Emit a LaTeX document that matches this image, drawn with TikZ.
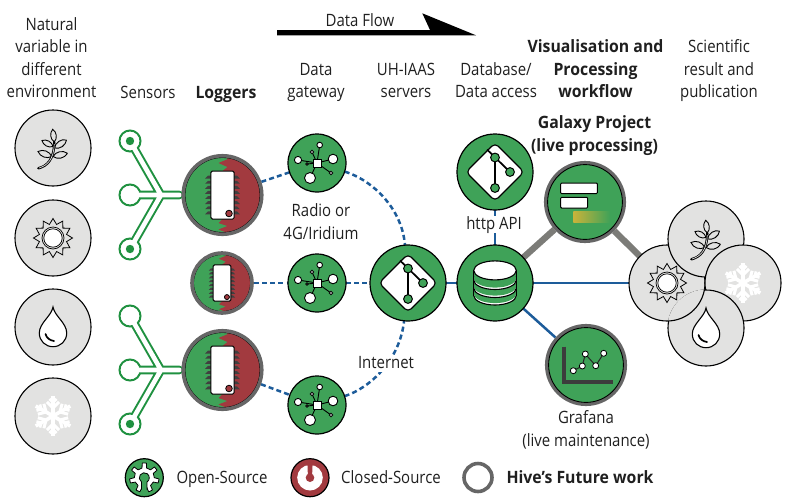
\documentclass[tikz,border=0pt]{standalone}
\usepackage{fontspec}
\setmainfont[FakeStretch=0.88,BoldFeatures={FakeStretch=0.93}]{Open Sans}
\usetikzlibrary{backgrounds}
\definecolor{gGreen}{HTML}{3FA258}
\definecolor{gRed}{HTML}{A23A3F}
\definecolor{sGreen}{HTML}{1F9140}
\definecolor{ringGray}{HTML}{666666}
\definecolor{linkGray}{HTML}{7C7C78}
\definecolor{lBlue}{HTML}{1D5C9A}
\definecolor{iGray}{HTML}{E2E2E1}
\definecolor{gold}{HTML}{C9B33A}
\definecolor{axisGray}{HTML}{3C3C3C}
\newcommand{\leafp}[4]{\draw[line width=.9,fill=iGray] (#1,#2) to[bend left=48] (#3,#4) to[bend left=48] (#1,#2);}
\tikzset{
 lbl/.style={align=center,inner sep=0pt,text=black!88,font=\fontsize{17}{22.5}\selectfont},
 blbl/.style={lbl,font=\fontsize{17}{22.5}\selectfont\bfseries},
 envc/.style={circle,draw=black,line width=1.1,fill=iGray,minimum size=76,inner sep=0,outer sep=0},
 gnode/.style={circle,draw=black,line width=1.2,fill=gGreen,minimum size=#1,inner sep=0,outer sep=0},
 fnode/.style={circle,draw=ringGray,line width=3.6,fill=gGreen,minimum size=#1,inner sep=0},
 lognode/.style={circle,draw=ringGray,line width=3.6,minimum size=#1,inner sep=0},
 sensor/.style={circle,draw=sGreen,line width=2,fill=white,minimum size=21,inner sep=0,outer sep=0},
 sdot/.style={circle,fill=sGreen,minimum size=8.4,inner sep=0},
 tubeo/.style={draw=sGreen,line width=8.6,line join=miter,line cap=round},
 tubei/.style={draw=white,line width=4.6,line join=miter,line cap=round},
 dlink/.style={draw=lBlue,line width=2.5,dash pattern=on 5pt off 3.2pt},
 slink/.style={draw=lBlue,line width=2.5},
 glink/.style={draw=linkGray,line width=6.4},
 leafic/.pic={
  \leafp{1.3}{-6}{-.3}{-18.7}
  \leafp{0}{-1.5}{-11}{-7.5}
  \leafp{13.5}{-8}{1.5}{0}
  \leafp{-1.3}{8.5}{-15}{3.5}
  \leafp{14.5}{5.3}{0}{8.5}
  \draw[line width=2.4,line cap=round] (-14.7,20.3) .. controls (-6,18) and (1,12) .. (1.3,-6);
  \draw[iGray,line width=.7] (-14,20) .. controls (-6,17.6) and (.9,11.6) .. (1.2,-4);
 },
 sunic/.pic={
  \draw[line width=.8,line join=miter,fill=iGray] (0:19.5)
   \foreach \i in {1,...,11}{ -- (\i*30-15:14) -- (\i*30:19.5)} -- (345:14) -- cycle;
  \draw[line width=.7,fill=iGray] (0,0) circle[radius=11];
  \draw[line width=.7,fill=white] (0,0) circle[radius=9.2];
 },
 dropic/.pic={
  \draw[line width=1.1,fill=white] (0,-20) .. controls (1.5,-11) and (13.7,-4) .. (13.7,6)
    .. controls (13.7,14) and (7.5,19.7) .. (0,19.7)
    .. controls (-7.5,19.7) and (-13.7,14) .. (-13.7,6)
    .. controls (-13.7,-4) and (-1.5,-11) .. (0,-20) -- cycle;
  \draw[line width=1.7,line cap=round] (-7.5,7) .. controls (-6.5,11) and (-3,13.5) .. (1,14);
 },
 flakeic/.pic={
  \foreach \a in {30,90,...,330}{
   \begin{scope}[rotate=\a]
   \draw[white,line width=3.6] (0,0) -- (20,0);
   \draw[white,line width=3] (8,0) -- ++(45:8.5);
   \draw[white,line width=3] (8,0) -- ++(-45:8.5);
   \draw[white,line width=2.6] (13.5,0) -- ++(45:5);
   \draw[white,line width=2.6] (13.5,0) -- ++(-45:5);
   \end{scope}}
 },
 chipic/.pic={
  \begin{scope}
  \clip (0,0) circle[radius=37.6];
  \fill[gGreen] (-42,-42) rectangle (42,42);
  \fill[gRed] (-3,-42) -- (5.5,-36) -- (-4,-32) -- (5,-28) -- (0,-24) -- (0,24) -- (-4,28) -- (5,31) -- (-4,34.5) -- (5,38) -- (-1,42) -- (42,42) -- (42,-42) -- cycle;
  \end{scope}
  \draw[line width=1] (0,0) circle[radius=37.6];
  \foreach \k in {-3.5,-2.5,...,3.5}{
   \fill[black!75] (-11.5,{\k*5.1-1.5}) -- (-14.5,{\k*5.1-1.5}) -- (-17.4,{\k*5.1+1.4}) -- (-11.5,{\k*5.1+1.4}) -- cycle;
   \fill[black!75] (11.5,{\k*5.1-1.5}) -- (14.5,{\k*5.1-1.5}) -- (17.4,{\k*5.1+1.4}) -- (11.5,{\k*5.1+1.4}) -- cycle;
  }
  \draw[line width=1,fill=white,rounded corners=1.5pt] (-11.7,-24) rectangle (11.7,24);
  \draw[line width=.8,fill=gRed] (6.5,18.5) circle[radius=3.3];
 },
 gitic/.pic={
  \draw[line width=1.1,fill=white,rounded corners=4.5pt] (14.5,-14.5) -- (29,0) -- (0,29) -- (-29,0) -- (0,-29) -- cycle;
  \draw[line width=1.7] (-8,-22.5) -- (15,0);
  \draw[line width=1.7] (0,-14.5) -- (0,16);
  \foreach \p in {(0,-14.5),(15,0),(0,16)}{\draw[line width=1,fill=gGreen] \p circle[radius=4.4];}
 },
 dbic/.pic={
  \draw[line width=1.1,fill=white] (0,12.5) ellipse[x radius=21.3,y radius=9.5];
  \fill[gGreen] (0,10.6) ellipse[x radius=21.3,y radius=9.5];
  \draw[line width=1.1,fill=white] (0,5) ellipse[x radius=21.3,y radius=9.5];
  \fill[gGreen] (0,3.1) ellipse[x radius=21.3,y radius=9.5];
  \draw[line width=1.1,fill=white] (0,-3) ellipse[x radius=21.3,y radius=9.5];
  \fill[gGreen] (0,-4.9) ellipse[x radius=21.3,y radius=9.5];
  \draw[line width=1.1,fill=white] (0,-12.6) ellipse[x radius=21.3,y radius=9.5];
  \draw[line width=1.1] (-21.3,-12.6) -- (-21.3,12.5) (21.3,-12.6) -- (21.3,12.5);
 },
 netic/.pic={
  \foreach \p/\r in {(-19,-3)/3.6,(16,-4)/4.8,(2.7,-18)/2.8,(-5,-11)/1.8,(-10,1)/1.2,(14,10)/1.8,(-7,15)/5.5}{
   \draw[line width=.9] (0,0) -- \p;
   \draw[line width=.9,fill=white] \p circle[radius=\r];
  }
  \draw[line width=.9,fill=white] (-4,-4) rectangle (4,4);
 },
 galic/.pic={
  \draw[line width=1,fill=white,rounded corners=1pt] (-24.3,-19) rectangle (12.3,-8.3);
  \draw[line width=1,fill=white,rounded corners=1pt] (-24.3,-4.7) rectangle (2.7,6);
  \shade[left color=gold,middle color=gold!75!gGreen,right color=gGreen] (-11.7,9.3) rectangle (25,20);
 },
 grafic/.pic={
  \draw[axisGray,line width=4,line join=miter] (-21.7,-18.3) -- (-21.7,16.7) -- (26.7,16.7);
  \draw[black!85,line width=1] (-12.7,5.7) -- (-3.7,1) -- (-.7,-11) -- (9.7,.7) -- (17.7,-11.7);
  \foreach \p in {(-12.7,5.7),(-3.7,1),(-.7,-11),(9.7,.7),(17.7,-11.7)}{\draw[line width=.8,fill=white] \p circle[radius=3];}
 },
 gearic/.pic={
  \draw[line width=.8,fill=white,line join=round] ({115.7-13}:10)
   \foreach \i in {0,...,6}{ -- ({115.7+\i*51.43-13}:10) -- ({115.7+\i*51.43-8}:14.8) -- ({115.7+\i*51.43+8}:14.8) -- ({115.7+\i*51.43+13}:10)} -- cycle;
  \fill[gGreen] (0,0) circle[radius=5];
  \fill[gGreen] (-2.8,2) rectangle (2.8,14);
  \draw[line width=.8] (-2.8,12) -- (-2.8,4.2) arc[start angle=-236,end angle=56,radius=5] -- (2.8,12);
 },
 lockic/.pic={
  \fill[white] (0,0) circle[radius=12.8];
  \fill[gRed] (0,0) circle[radius=4.3];
  \fill[gRed] (-2.6,-14) -- (2.6,-14) -- (2,0) -- (-2,0) -- cycle;
 },
}
\begin{document}
\begin{tikzpicture}[x=1pt,y=-1pt]
\useasboundingbox (0,0) rectangle (786,501);
% environment column
\node[envc] (e1) at (53,148) {};
\node[envc] (e2) at (53,238) {};
\node[envc] (e3) at (53,327) {};
\node[envc] (e4) at (53,416) {};
\pic at (e1) {leafic};
\pic at (e2) {sunic};
\pic at (e3) {dropic};
\pic at (e4) {flakeic};
% sensors
\node[sensor] (s1) at (130,141) {};
\node[sensor] (s2) at (130,195) {};
\node[sensor] (s3) at (130,249) {};
\node[sensor] (s4) at (130,316) {};
\node[sensor] (s5) at (130,370) {};
\node[sensor] (s6) at (130,424) {};
\coordinate (j1) at (161,195);
\coordinate (j2) at (161,370);
\coordinate (t1) at (179.5,195);
\coordinate (t2) at (179.5,370);
\begin{scope}[on background layer]
 \draw[tubeo] (s1.center) -- (j1) -- (t1) (s3.center) -- (j1) (s2.center) -- (j1);
 \draw[tubeo] (s4.center) -- (j2) -- (t2) (s6.center) -- (j2) (s5.center) -- (j2);
\end{scope}
\draw[tubei] (s1.center) -- (j1) -- (t1) (s3.center) -- (j1) (s2.center) -- (j1);
\draw[tubei] (s4.center) -- (j2) -- (t2) (s6.center) -- (j2) (s5.center) -- (j2);
\fill[white] (s1) circle[radius=9] (s2) circle[radius=9] (s3) circle[radius=9] (s4) circle[radius=9] (s5) circle[radius=9] (s6) circle[radius=9];
\node[sdot] (d1) at (s1) {};
\node[sdot] (d3) at (s3) {};
\node[sdot] (d6) at (s6) {};
% loggers
\pic at (222.5,195) {chipic};
\pic[scale=.76] at (222,283) {chipic};
\pic at (222.5,370) {chipic};
\node[lognode=78.5] (l1) at (222.5,195) {};
\node[lognode=60] (l2) at (222,283) {};
\node[lognode=78.5] (l3) at (222.5,370) {};
% gateways
\node[gnode=58] (g1) at (317,163) {};
\node[gnode=58] (g2) at (317,283) {};
\node[gnode=58] (g3) at (317,405) {};
\pic at (g1) {netic};
\pic at (g2) {netic};
\pic at (g3) {netic};
% servers
\node[gnode=76] (srv) at (408,283) {};
\node[gnode=76] (api) at (495,172) {};
\node[gnode=76] (db) at (495,283) {};
\pic at (srv) {gitic};
\pic at (api) {gitic};
\pic at (db) {dbic};
% galaxy and grafana
\node[fnode=78.5] (gal) at (585,202) {};
\node[fnode=78.5] (gra) at (586,365) {};
\draw[line width=.9] (gal) circle[radius=37.4] (gra) circle[radius=37.4];
\pic at (gal) {galic};
\pic at (gra) {grafic};
% cluster
\node[envc] (cl) at (667,283) {};
\node[envc] (ct) at (706,239) {};
\node[envc] (cr) at (743,283) {};
\node[envc] (cb) at (706,328) {};
\begin{scope}
 \clip (706,328) circle[radius=38.6];
 \draw[line width=1.1,fill=iGray] (667,283) circle[radius=38];
\end{scope}
\pic at (ct) {leafic};
\pic at (cl) {sunic};
\pic at (cr) {flakeic};
\pic at (cb) {dropic};
% connectors
\begin{scope}[on background layer]
 \draw[dlink] (l1) -- (g1);
 \draw[dlink] (l2) -- (g2);
 \draw[dlink] (l3) -- (g3);
 \draw[dlink] (g1) .. controls (372,180) and (402,208) .. (srv);
 \draw[dlink] (g2) -- (srv);
 \draw[dlink] (g3) .. controls (370,388) and (400,360) .. (srv);
 \draw[slink] (srv) -- (db);
 \draw[slink] (db) -- (api);
 \draw[slink] (db) -- (cl);
 \draw[slink] (db) -- (gra);
 \draw[glink] (db) -- (gal);
 \draw[glink] (gal) -- (cl);
\end{scope}
% data flow arrow
\fill[black] (277,30) -- (430,30) -- (422.3,13.3) -- (476,35.3) -- (277,35.3) -- cycle;
\node[lbl] (tflow) at (360,21.5) {\strut Data Flow\strut};
% headers
\node[lbl] (h1) at (51.5,59.5) {\strut Natural\\variable in\\different\\environment\strut};
\node[lbl] (h2) at (148,93.5) {\strut Sensors\strut};
\node[blbl] (h3) at (226,93.5) {\strut Loggers\strut};
\node[lbl] (h4) at (316,82) {\strut Data\\gateway\strut};
\node[lbl] (h5) at (406,82) {\strut UH-IAAS\\servers\strut};
\node[lbl] (h6) at (496,82) {\strut Database/\\Data access\strut};
\node[blbl] (h7) at (595.5,70.5) {\strut Visualisation and\\Processing\\workflow\strut};
\node[lbl] (h8) at (719,70.5) {\strut Scientific\\result and\\publication\strut};
\node[blbl] (h9) at (594.5,135.5) {\strut Galaxy Project\\(live processing)\strut};
\node[lbl] (radio) at (321,223.5) {\strut Radio or\\4G/Iridium\strut};
\node[lbl,fill=white,inner ysep=-3pt,inner xsep=3pt] (http) at (494,224.5) {\strut http API\strut};
\node[lbl,fill=white,inner ysep=-3pt,inner xsep=2pt] (inet) at (386,363.5) {\strut Internet\strut};
\node[lbl] (graf) at (586,430.5) {\strut Grafana\\(live maintenance)\strut};
% legend
\node[gnode=38] (k1) at (144.3,477.7) {};
\pic at (k1) {gearic};
\node[lbl] (k1t) at (222,478.5) {\strut Open-Source\strut};
\node[gnode=38,fill=gRed] (k2) at (310,477.7) {};
\pic at (k2) {lockic};
\node[lbl] (k2t) at (391,478.5) {\strut Closed-Source\strut};
\node[lognode=28,fill=white] (k3) at (478,477.5) {};
\node[blbl] (k3t) at (580,478.5) {\strut Hive's Future work\strut};
\end{tikzpicture}
\end{document}
